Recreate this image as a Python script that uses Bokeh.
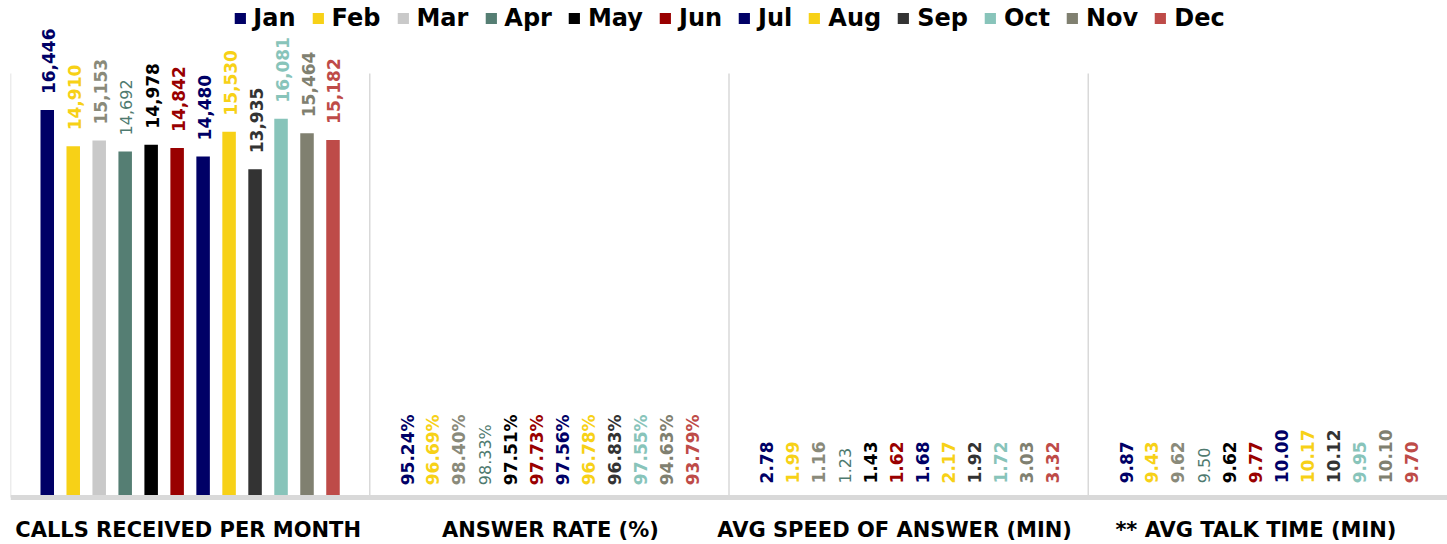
import math
from bokeh.plotting import figure
from bokeh.models import ColumnDataSource, Legend, LegendItem, Range1d, Span
from bokeh.core.properties import value
from bokeh.embed import file_html
from bokeh.resources import INLINE

# ---------------- data ----------------
months = ["Jan", "Feb", "Mar", "Apr", "May", "Jun", "Jul", "Aug", "Sep", "Oct", "Nov", "Dec"]
metrics = ["CALLS RECEIVED PER MONTH", "ANSWER RATE (%)", "AVG SPEED OF ANSWER (MIN)", "** AVG TALK TIME (MIN)"]
calls_received = [16446, 14910, 15153, 14692, 14978, 14842, 14480, 15530, 13935, 16081, 15464, 15182]
answer_rate = [95.24, 96.69, 98.40, 98.33, 97.51, 97.73, 97.56, 96.78, 96.83, 97.55, 94.63, 93.79]
avg_speed_answer = [2.78, 1.99, 1.16, 1.23, 1.43, 1.62, 1.68, 2.17, 1.92, 1.72, 3.03, 3.32]
avg_talk_time = [9.87, 9.43, 9.62, 9.50, 9.62, 9.77, 10.00, 10.17, 10.12, 9.95, 10.10, 9.70]
label_formats = ["{:,.0f}", "{:.2f}%", "{:.2f}", "{:.2f}"]

# ---------------- styles ----------------
bar_colors = ["#000066", "#F7D117", "#C9C9C9", "#557E73", "#000000", "#990000",
              "#000066", "#F7D117", "#333333", "#88C4BA", "#808070", "#BE4B48"]
label_colors = ["#000066", "#F7D117", "#8A8A7A", "#4F7A6F", "#000000", "#990000",
                "#000066", "#F7D117", "#333333", "#88C4BA", "#808070", "#BE4B48"]
label_offsets = [16, 10, 14, 14]      # px gap between bar top and label
cat_shift = [-2, 1, -14, -12]         # px horizontal nudge of category labels
FONT = "DejaVu Sans"
STEP = 1 / 13.83                      # spacing between month bars within a group
BAR_W = 0.52 * STEP
AXIS_MAX = 18000                      # value axis maximum of the original chart
PX_PER_UNIT = 424 / AXIS_MAX
W, H = 1447, 544
BASE_PX = 497                         # page y of the value 0
LEFT = 10

series = [calls_received, answer_rate, avg_speed_answer, avg_talk_time]

p = figure(width=W, height=H, output_backend="svg", toolbar_location=None,
           x_range=Range1d(-0.5, len(metrics) - 0.5),
           y_range=Range1d(-(H - BASE_PX) / PX_PER_UNIT, BASE_PX / PX_PER_UNIT),
           min_border_left=LEFT, min_border_right=0, min_border_top=0, min_border_bottom=0)
p.outline_line_color = None
p.grid.visible = False
p.axis.visible = False
p.background_fill_color = "white"

# group separators
sep_x = [g - 0.5 for g in range(len(metrics))]
p.segment(x0=sep_x, x1=sep_x, y0=[0] * len(sep_x), y1=[AXIS_MAX] * len(sep_x),
          line_color="#D9D9D9", line_width=1.5)

items = []
for mi, m in enumerate(months):
    xs = [g + (mi - 5.5) * STEP for g in range(len(metrics))]
    vals = [s[mi] for s in series]
    labels = [label_formats[g].format(vals[g]) for g in range(len(metrics))]
    src = ColumnDataSource(dict(x=xs, top=vals, label=labels,
                                yoff=[-o for o in label_offsets]))
    r = p.vbar(x="x", top="top", width=BAR_W, source=src, fill_color=bar_colors[mi],
               line_color=None)
    small = (m == "Apr")
    p.text(x="x", y="top", text="label", source=src, angle=math.pi / 2,
           text_align="left", text_baseline="middle", y_offset="yoff", x_offset=1,
           text_color=label_colors[mi], text_font=value(FONT),
           text_font_size="16px" if small else "17px",
           text_font_style="normal" if small else "bold")
    items.append(LegendItem(label=m, renderers=[r]))

# baseline (category axis line)
p.add_layout(Span(location=0, dimension="width", line_color="#D9D9D9", line_width=5))

# category labels
cat_src = ColumnDataSource(dict(x=list(range(len(metrics))), y=[0] * len(metrics),
                                t=metrics, xo=cat_shift))
p.text(x="x", y="y", text="t", source=cat_src, y_offset=32, x_offset="xo",
       text_align="center", text_baseline="middle", text_font=value(FONT),
       text_font_style="bold", text_font_size="21px", text_color="#000000")

legend = Legend(items=items, orientation="horizontal", location="top_center",
                label_text_font=FONT, label_text_font_size="24px",
                label_text_font_style="bold", label_text_color="#000000",
                glyph_width=14, glyph_height=14, label_standoff=7, spacing=15,
                padding=0, margin=4, border_line_color=None,
                background_fill_alpha=0)
p.add_layout(legend, "center")

open("out.html", "w").write(file_html(p, INLINE))
